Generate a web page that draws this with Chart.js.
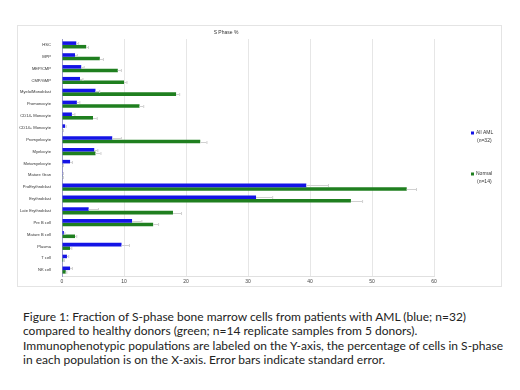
<!DOCTYPE html>
<html>
<head>
<meta charset="utf-8">
<script src="https://cdn.jsdelivr.net/npm/chart.js@4/dist/chart.umd.min.js"></script>
<style>
  body { margin: 0; background: #fff; width: 520px; height: 390px; position: relative; overflow: hidden; }
  #box { position: absolute; left: 17px; top: 25px; width: 485px; height: 262px; border: 1px solid #e4e4e4; box-sizing: border-box; }
  #caption { position: absolute; left: 23px; top: 310px; width: 497px; font-family: Lato, sans-serif; font-size: 12px; line-height: 14.3px; color: #222; white-space: nowrap; }
</style>
</head>
<body>
<div id="box"><canvas id="barChart"></canvas></div>
<div id="caption">
Figure 1: Fraction of S-phase bone marrow cells from patients with AML (blue; n=32)<br>
compared to healthy donors (green; n=14 replicate samples from 5 donors).<br>
Immunophenotypic populations are labeled on the Y-axis, the percentage of cells in S-phase<br>
in each population is on the X-axis. Error bars indicate standard error.
</div>
<script>
// populations, top to bottom
var categories = ['HSC', 'MPP', 'MEP/CMP', 'CMP/GMP', 'Myelo/Monoblast', 'Promonocyte',
    'CD14- Monocyte', 'CD14+ Monocyte', 'Promyelocyte', 'Myelocyte', 'Metamyelocyte',
    'Mature Gran', 'ProErythroblast', 'Erythroblast', 'Late Erythroblast', 'Pre B cell',
    'Mature B cell', 'Plasma', 'T cell', 'NK cell'];

var amlValues = [2.3, 2.1, 3.1, 2.9, 5.4, 2.4, 1.6, 0.5, 8.1, 5.2, 1.3, 0.1,
    39.4, 31.3, 4.3, 11.3, 0.3, 9.6, 0.8, 1.3];
var amlErr = [0.3, 0.3, 0.4, 0.4, 0.6, 0.4, 0.4, 0.1, 1.4, 0.5, 0.3, 0.05,
    3.5, 2.6, 1.5, 1.5, 0.1, 1.2, 0.2, 0.3];

var normalValues = [3.9, 6.1, 9.0, 10.0, 18.4, 12.5, 5.0, 0.1, 22.3, 5.4, 0.1, 0.1,
    55.6, 46.6, 17.9, 14.7, 2.1, 1.3, 0.2, 0.6];
var normalErr = [0.3, 0.5, 0.5, 0.4, 0.5, 0.6, 0.6, 0.05, 1.0, 0.8, 0.05, 0.05,
    1.5, 1.8, 1.3, 0.8, 0.2, 0.2, 0.1, 0.1];

var xTicks = [0, 10, 20, 30, 40, 50, 60];

var legendLabels = [['All AML', '(n=32)'], ['Normal', '(n=14)']];

// error bars drawn from the bar elements
var errorBars = {
    id: 'errorBars',
    afterDatasetsDraw: function (chart) {
        var ctx = chart.ctx;
        var xs = chart.scales.x;
        var errs = [amlErr, normalErr];
        ctx.save();
        ctx.strokeStyle = '#d0d0d0';
        ctx.lineWidth = 1;
        chart.data.datasets.forEach(function (ds, i) {
            chart.getDatasetMeta(i).data.forEach(function (bar, j) {
                var x0 = xs.getPixelForValue(ds.data[j]);
                var x1 = xs.getPixelForValue(ds.data[j] + errs[i][j]);
                var y = Math.round(bar.y) + 0.5;
                ctx.beginPath();
                ctx.moveTo(x0, y);
                ctx.lineTo(x1, y);
                ctx.moveTo(x1 + 0.5, y - 1.5);
                ctx.lineTo(x1 + 0.5, y + 1.5);
                ctx.stroke();
            });
        });
        ctx.restore();
    }
};

// two-line legend on the right
var sideLegend = {
    id: 'sideLegend',
    afterDraw: function (chart) {
        var ctx = chart.ctx;
        var tops = [107, 148];
        ctx.save();
        ctx.font = '5px "Liberation Sans", sans-serif';
        ctx.textBaseline = 'middle';
        chart.data.datasets.forEach(function (ds, i) {
            ctx.fillStyle = ds.backgroundColor;
            ctx.fillRect(453, tops[i] - 1.5, 3, 3);
            ctx.fillStyle = '#333';
            ctx.fillText(legendLabels[i][0], 458, tops[i]);
            ctx.fillText(legendLabels[i][1], 459, tops[i] + 8);
        });
        ctx.restore();
    }
};

var ctx = document.getElementById('barChart').getContext('2d');
var chart = new Chart(ctx, {
    type: 'bar',
    data: {
        labels: categories,
        datasets: [{
            label: 'All AML (n=32)',
            data: amlValues,
            backgroundColor: '#1414e6',
            borderWidth: 0
        }, {
            label: 'Normal (n=14)',
            data: normalValues,
            backgroundColor: '#1f7f1f',
            borderWidth: 0
        }]
    },
    options: {
        indexAxis: 'y',
        responsive: true,
        maintainAspectRatio: false,
        animation: false,
        categoryPercentage: 0.6,
        barPercentage: 1.0,
        layout: { padding: { left: 0, right: 67, top: 0, bottom: 0 } },
        plugins: {
            legend: { display: false },
            tooltip: { enabled: false },
            title: {
                display: true,
                text: 'S Phase %',
                color: '#333',
                font: { size: 5, family: '"Liberation Sans", sans-serif', weight: 'normal' },
                padding: { top: 4, bottom: 3 }
            }
        },
        scales: {
            x: {
                min: 0,
                max: 60,
                afterBuildTicks: function (axis) {
                    axis.ticks = xTicks.map(function (v) { return { value: v }; });
                },
                afterFit: function (axis) { axis.height = 10; },
                grid: { color: '#e6e6e6', lineWidth: 1, drawTicks: false },
                border: { color: '#e0e0e0' },
                ticks: {
                    color: '#444',
                    padding: 3,
                    font: { size: 5, family: '"Liberation Sans", sans-serif' }
                }
            },
            y: {
                afterFit: function (axis) { axis.width = 44; },
                grid: { display: false },
                border: { color: '#9a9ac8' },
                ticks: {
                    color: '#333',
                    padding: 3,
                    autoSkip: false,
                    font: { size: 4.1, family: '"Liberation Sans", sans-serif' }
                }
            }
        }
    },
    plugins: [errorBars, sideLegend]
});
</script>
</body>
</html>
